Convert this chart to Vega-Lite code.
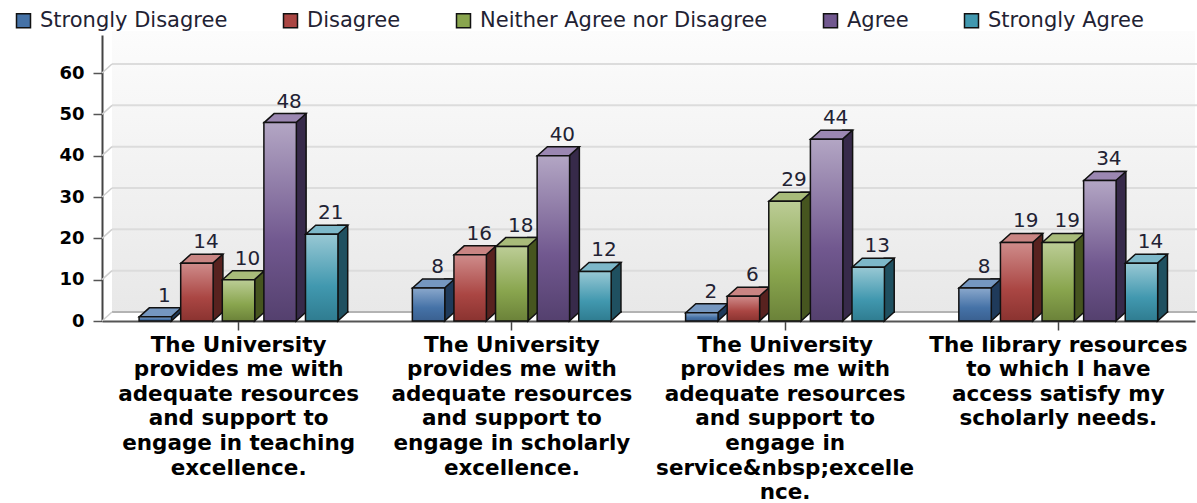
{
"$schema":"https://vega.github.io/schema/vega-lite/v6.json",
"width":1093,"height":286,
"autosize":{"type":"none"},
"padding":{"left":102,"top":35,"right":2,"bottom":182},
"background":"white",
"config":{"view":{"stroke":null}},
"datasets":{
"bars":[
{"q":"The University|provides me with|adequate resources|and support to|engage in teaching|excellence.","s":"Strongly Disagree","v":1},
{"q":"The University|provides me with|adequate resources|and support to|engage in teaching|excellence.","s":"Disagree","v":14},
{"q":"The University|provides me with|adequate resources|and support to|engage in teaching|excellence.","s":"Neither Agree nor Disagree","v":10},
{"q":"The University|provides me with|adequate resources|and support to|engage in teaching|excellence.","s":"Agree","v":48},
{"q":"The University|provides me with|adequate resources|and support to|engage in teaching|excellence.","s":"Strongly Agree","v":21},
{"q":"The University|provides me with|adequate resources|and support to|engage in scholarly|excellence.","s":"Strongly Disagree","v":8},
{"q":"The University|provides me with|adequate resources|and support to|engage in scholarly|excellence.","s":"Disagree","v":16},
{"q":"The University|provides me with|adequate resources|and support to|engage in scholarly|excellence.","s":"Neither Agree nor Disagree","v":18},
{"q":"The University|provides me with|adequate resources|and support to|engage in scholarly|excellence.","s":"Agree","v":40},
{"q":"The University|provides me with|adequate resources|and support to|engage in scholarly|excellence.","s":"Strongly Agree","v":12},
{"q":"The University|provides me with|adequate resources|and support to|engage in|service&nbsp;excelle|nce.","s":"Strongly Disagree","v":2},
{"q":"The University|provides me with|adequate resources|and support to|engage in|service&nbsp;excelle|nce.","s":"Disagree","v":6},
{"q":"The University|provides me with|adequate resources|and support to|engage in|service&nbsp;excelle|nce.","s":"Neither Agree nor Disagree","v":29},
{"q":"The University|provides me with|adequate resources|and support to|engage in|service&nbsp;excelle|nce.","s":"Agree","v":44},
{"q":"The University|provides me with|adequate resources|and support to|engage in|service&nbsp;excelle|nce.","s":"Strongly Agree","v":13},
{"q":"The library resources|to which I have|access satisfy my|scholarly needs.","s":"Strongly Disagree","v":8},
{"q":"The library resources|to which I have|access satisfy my|scholarly needs.","s":"Disagree","v":19},
{"q":"The library resources|to which I have|access satisfy my|scholarly needs.","s":"Neither Agree nor Disagree","v":19},
{"q":"The library resources|to which I have|access satisfy my|scholarly needs.","s":"Agree","v":34},
{"q":"The library resources|to which I have|access satisfy my|scholarly needs.","s":"Strongly Agree","v":14}
],
"ticks":[{"t":0},{"t":10},{"t":20},{"t":30},{"t":40},{"t":50},{"t":60}]
},
"resolve":{"scale":{"x":"independent","xOffset":"independent","fill":"independent"},"axis":{"x":"independent","y":"independent"},"legend":{"fill":"independent"}},
"layer":[
{"data":{"values":[{"a":0}]},
 "mark":{"type":"rect","xOffset":10,"yOffset":-9,"y2Offset":-9,"fill":{"gradient":"linear","x1":0,"y1":0,"x2":0,"y2":1,"stops":[{"offset":0,"color":"#fcfcfc"},{"offset":1,"color":"#e8e8e8"}]}},
 "encoding":{"x":{"datum":0,"type":"quantitative","scale":{"domain":[0,1]},"axis":null},"x2":{"datum":1},
  "y":{"datum":68,"type":"quantitative","scale":{"domain":[0,69.2],"nice":false},
   "axis":{"title":null,"values":[0,10,20,30,40,50,60],"grid":false,"labelFont":"DejaVu Sans","labelFontWeight":"bold","labelFontSize":18,"labelColor":"#000000","labelPadding":9,"tickSize":9,"tickColor":"#555555","tickWidth":1.5,"domainColor":"#444444","domainWidth":2}},"y2":{"datum":0}}},
{"data":{"name":"ticks"},
 "mark":{"type":"rule","stroke":"#dcdcdc","strokeWidth":2,"xOffset":10,"x2Offset":10,"yOffset":-9},
 "encoding":{"x":{"datum":0,"type":"quantitative","scale":{"domain":[0,1]},"axis":null},"x2":{"datum":1},
  "y":{"field":"t","type":"quantitative","scale":{"domain":[0,69.2],"nice":false},"axis":null}}},
{"data":{"name":"ticks"},"transform":[{"filter":"datum.t===0"}],
 "mark":{"type":"rule","stroke":"#a6a6a6","strokeWidth":1.5,"xOffset":10,"x2Offset":10,"yOffset":-9},
 "encoding":{"x":{"datum":0,"type":"quantitative","scale":{"domain":[0,1]},"axis":null},"x2":{"datum":1},
  "y":{"field":"t","type":"quantitative","scale":{"domain":[0,69.2],"nice":false},"axis":null}}},
{"data":{"name":"ticks"},
 "mark":{"type":"point","shape":"M0,0 L10,-9","size":4,"filled":false,"stroke":"#cfcfcf","strokeWidth":1.5,"opacity":1},
 "encoding":{"x":{"datum":0,"type":"quantitative","scale":{"domain":[0,1]},"axis":null},
  "y":{"field":"t","type":"quantitative","scale":{"domain":[0,69.2],"nice":false},"axis":null}}},
{"data":{"name":"bars"},
 "mark":{"type":"bar","width":10,"stroke":"#111111","strokeWidth":1.5,"yOffset":-9,"y2Offset":-9},
 "encoding":{
  "x":{"field":"q","type":"nominal","sort":null,"scale":{"paddingInner":0.238,"paddingOuter":0.119},"axis":null},
  "xOffset":{"field":"s","type":"nominal","scale":{"type":"band","domain":["Strongly Disagree","Disagree","Neither Agree nor Disagree","Agree","Strongly Agree"],"range":[21,229],"paddingInner":0.22,"paddingOuter":0.11}},
  "y":{"field":"v","type":"quantitative","scale":{"domain":[0,69.2],"nice":false},"axis":null},
  "fill":{"field":"s","type":"nominal","legend":null,"scale":{"domain":["Strongly Disagree","Disagree","Neither Agree nor Disagree","Agree","Strongly Agree"],"range":["#1f3a5a","#58221f","#46551f","#372a4a","#1f5060"]}}}},
{"data":{"name":"bars"},
 "mark":{"type":"point","shape":"M26,-10 L26,-9 L16,0 L16,-10","size":4,"filled":true,"stroke":"#111111","strokeWidth":1.5,"opacity":1},
 "encoding":{
  "x":{"field":"q","type":"nominal","sort":null,"scale":{"paddingInner":0.238,"paddingOuter":0.119},"axis":null},
  "xOffset":{"field":"s","type":"nominal","scale":{"type":"band","domain":["Strongly Disagree","Disagree","Neither Agree nor Disagree","Agree","Strongly Agree"],"range":[0,208],"paddingInner":0.22,"paddingOuter":0.11}},
  "y":{"datum":0,"type":"quantitative","scale":{"domain":[0,69.2],"nice":false},"axis":null},
  "fill":{"field":"s","type":"nominal","legend":null,"scale":{"domain":["Strongly Disagree","Disagree","Neither Agree nor Disagree","Agree","Strongly Agree"],"range":["#1f3a5a","#58221f","#46551f","#372a4a","#1f5060"]}}}},
{"data":{"name":"bars"},
 "mark":{"type":"point","shape":"M-16,0 L16,0 L26,-9 L-6,-9 Z","size":4,"filled":true,"stroke":"#111111","strokeWidth":1.5,"opacity":1},
 "encoding":{
  "x":{"field":"q","type":"nominal","sort":null,"scale":{"paddingInner":0.238,"paddingOuter":0.119},"axis":null},
  "xOffset":{"field":"s","type":"nominal","scale":{"type":"band","domain":["Strongly Disagree","Disagree","Neither Agree nor Disagree","Agree","Strongly Agree"],"range":[0,208],"paddingInner":0.22,"paddingOuter":0.11}},
  "y":{"field":"v","type":"quantitative","scale":{"domain":[0,69.2],"nice":false},"axis":null},
  "fill":{"field":"s","type":"nominal","legend":null,"scale":{"domain":["Strongly Disagree","Disagree","Neither Agree nor Disagree","Agree","Strongly Agree"],"range":["#7597c0","#c98583","#a8bb7a","#9b87b2","#7db8c9"]}}}},
{"data":{"name":"bars"},"transform":[{"filter":"datum.s==='Strongly Disagree'"}],
 "mark":{"type":"bar","stroke":"#111111","strokeWidth":1.5,"fill":{"gradient":"linear","x1":0,"y1":0,"x2":0,"y2":1,"stops":[{"offset":0,"color":"#8aa8cc"},{"offset":0.6,"color":"#4572a7"},{"offset":1,"color":"#3a6090"}]}},
 "encoding":{
  "x":{"field":"q","type":"nominal","sort":null,"scale":{"paddingInner":0.238,"paddingOuter":0.119},
   "axis":{"title":null,"labelExpr":"split(datum.label,'|')","labelAngle":0,"labelFont":"DejaVu Sans","labelFontWeight":"bold","labelFontSize":21.5,"labelColor":"#000000","labelLineHeight":24.6,"labelLimit":400,"labelOverlap":false,"labelPadding":4,"labelBaseline":"top","tickSize":9,"tickColor":"#444444","tickWidth":1.5,"domainColor":"#555555","domainWidth":2,"grid":false,"labelBound":false,"labelFlush":false}},
  "xOffset":{"field":"s","type":"nominal","scale":{"type":"band","domain":["Strongly Disagree","Disagree","Neither Agree nor Disagree","Agree","Strongly Agree"],"range":[0,208],"paddingInner":0.22,"paddingOuter":0.11}},
  "y":{"field":"v","type":"quantitative","scale":{"domain":[0,69.2],"nice":false},"axis":null}}},
{"data":{"name":"bars"},"transform":[{"filter":"datum.s==='Disagree'"}],
 "mark":{"type":"bar","stroke":"#111111","strokeWidth":1.5,"fill":{"gradient":"linear","x1":0,"y1":0,"x2":0,"y2":1,"stops":[{"offset":0,"color":"#cf8c8b"},{"offset":0.6,"color":"#aa4643"},{"offset":1,"color":"#8a3330"}]}},
 "encoding":{
  "x":{"field":"q","type":"nominal","sort":null,"scale":{"paddingInner":0.238,"paddingOuter":0.119},"axis":null},
  "xOffset":{"field":"s","type":"nominal","scale":{"type":"band","domain":["Strongly Disagree","Disagree","Neither Agree nor Disagree","Agree","Strongly Agree"],"range":[0,208],"paddingInner":0.22,"paddingOuter":0.11}},
  "y":{"field":"v","type":"quantitative","scale":{"domain":[0,69.2],"nice":false},"axis":null}}},
{"data":{"name":"bars"},"transform":[{"filter":"datum.s==='Neither Agree nor Disagree'"}],
 "mark":{"type":"bar","stroke":"#111111","strokeWidth":1.5,"fill":{"gradient":"linear","x1":0,"y1":0,"x2":0,"y2":1,"stops":[{"offset":0,"color":"#bccd96"},{"offset":0.6,"color":"#89a54e"},{"offset":1,"color":"#6b8239"}]}},
 "encoding":{
  "x":{"field":"q","type":"nominal","sort":null,"scale":{"paddingInner":0.238,"paddingOuter":0.119},"axis":null},
  "xOffset":{"field":"s","type":"nominal","scale":{"type":"band","domain":["Strongly Disagree","Disagree","Neither Agree nor Disagree","Agree","Strongly Agree"],"range":[0,208],"paddingInner":0.22,"paddingOuter":0.11}},
  "y":{"field":"v","type":"quantitative","scale":{"domain":[0,69.2],"nice":false},"axis":null}}},
{"data":{"name":"bars"},"transform":[{"filter":"datum.s==='Agree'"}],
 "mark":{"type":"bar","stroke":"#111111","strokeWidth":1.5,"fill":{"gradient":"linear","x1":0,"y1":0,"x2":0,"y2":1,"stops":[{"offset":0,"color":"#b3a6c4"},{"offset":0.6,"color":"#71588f"},{"offset":1,"color":"#54406e"}]}},
 "encoding":{
  "x":{"field":"q","type":"nominal","sort":null,"scale":{"paddingInner":0.238,"paddingOuter":0.119},"axis":null},
  "xOffset":{"field":"s","type":"nominal","scale":{"type":"band","domain":["Strongly Disagree","Disagree","Neither Agree nor Disagree","Agree","Strongly Agree"],"range":[0,208],"paddingInner":0.22,"paddingOuter":0.11}},
  "y":{"field":"v","type":"quantitative","scale":{"domain":[0,69.2],"nice":false},"axis":null}}},
{"data":{"name":"bars"},"transform":[{"filter":"datum.s==='Strongly Agree'"}],
 "mark":{"type":"bar","stroke":"#111111","strokeWidth":1.5,"fill":{"gradient":"linear","x1":0,"y1":0,"x2":0,"y2":1,"stops":[{"offset":0,"color":"#98c8d4"},{"offset":0.6,"color":"#4198af"},{"offset":1,"color":"#2f7c90"}]}},
 "encoding":{
  "x":{"field":"q","type":"nominal","sort":null,"scale":{"paddingInner":0.238,"paddingOuter":0.119},"axis":null},
  "xOffset":{"field":"s","type":"nominal","scale":{"type":"band","domain":["Strongly Disagree","Disagree","Neither Agree nor Disagree","Agree","Strongly Agree"],"range":[0,208],"paddingInner":0.22,"paddingOuter":0.11}},
  "y":{"field":"v","type":"quantitative","scale":{"domain":[0,69.2],"nice":false},"axis":null}}},
{"data":{"name":"bars"},
 "mark":{"type":"text","font":"DejaVu Sans","fontSize":20,"color":"#222233","dx":9,"dy":-15,"baseline":"alphabetic","align":"center"},
 "encoding":{
  "x":{"field":"q","type":"nominal","sort":null,"scale":{"paddingInner":0.238,"paddingOuter":0.119},"axis":null},
  "xOffset":{"field":"s","type":"nominal","scale":{"type":"band","domain":["Strongly Disagree","Disagree","Neither Agree nor Disagree","Agree","Strongly Agree"],"range":[0,208],"paddingInner":0.22,"paddingOuter":0.11}},
  "y":{"field":"v","type":"quantitative","scale":{"domain":[0,69.2],"nice":false},"axis":null},
  "text":{"field":"v","type":"quantitative"}}},
{"data":{"name":"bars"},
 "mark":{"type":"point","shape":"square","size":0,"filled":true,"opacity":1},
 "encoding":{
  "x":{"field":"q","type":"nominal","sort":null,"scale":{"paddingInner":0.238,"paddingOuter":0.119},"axis":null},
  "y":{"field":"v","type":"quantitative","scale":{"domain":[0,69.2],"nice":false},"axis":null},
  "fill":{"field":"s","type":"nominal","scale":{"domain":["Strongly Disagree","Disagree","Neither Agree nor Disagree","Agree","Strongly Agree"],"range":["#4572a7","#aa4643","#89a54e","#71588f","#4198af"]},
   "legend":{"title":null,"orient":"none","legendX":-89,"legendY":-25,"direction":"horizontal","columns":5,"symbolType":"square","symbolSize":196,"symbolStrokeColor":"#111111","symbolStrokeWidth":1.5,"symbolOpacity":1,"labelFont":"DejaVu Sans","labelFontSize":21,"labelColor":"#222233","labelLimit":400,"columnPadding":52,"labelOffset":6,"padding":0}}}}
]
}
